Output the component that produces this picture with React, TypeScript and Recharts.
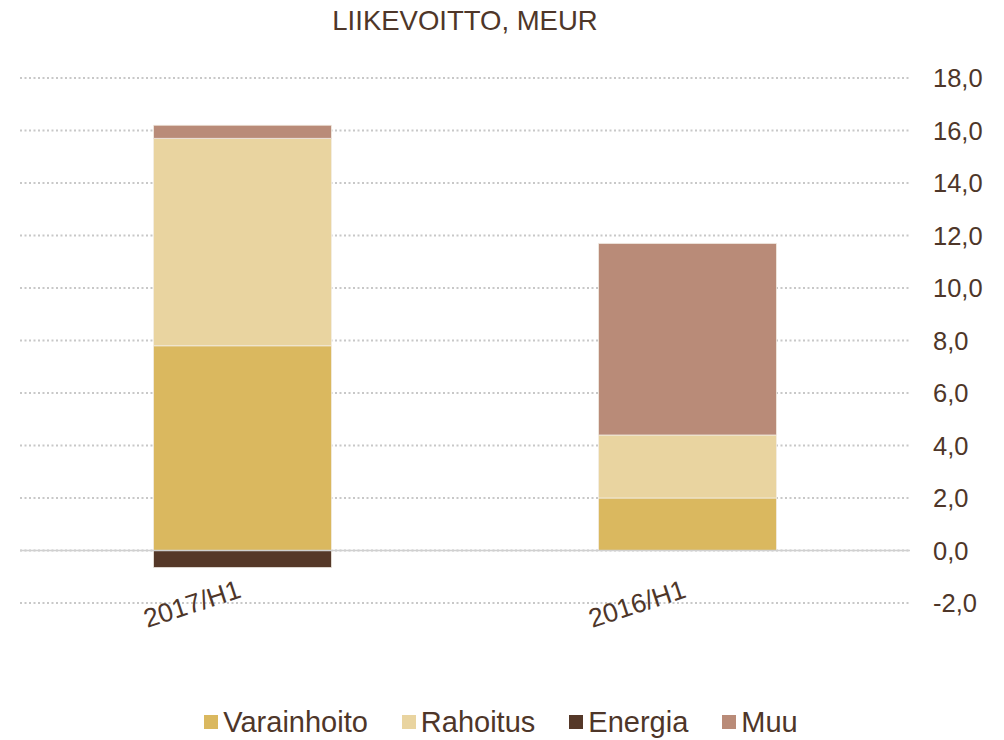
import {
    Bar,
    BarChart,
    CartesianGrid,
    Legend,
    ReferenceLine,
    XAxis,
    YAxis,
} from "recharts";

const categories = ["2017/H1", "2016/H1"];
const varainhoito = [7.8, 2.0];
const rahoitus = [7.9, 2.4];
const energia = [-0.65, 0];
const muu = [0.5, 7.3];
const yTicks = [-2, 0, 2, 4, 6, 8, 10, 12, 14, 16, 18];

const series = [
    { key: "varainhoito", name: "Varainhoito", color: "#dab85f" },
    { key: "rahoitus", name: "Rahoitus", color: "#e9d4a0" },
    { key: "energia", name: "Energia", color: "#553828" },
    { key: "muu", name: "Muu", color: "#b98b78" },
];

const data = categories.map((category, i) => ({
    category,
    varainhoito: varainhoito[i],
    rahoitus: rahoitus[i],
    energia: energia[i],
    muu: muu[i],
}));

const textColor = "#4e3629";
const font = "'Liberation Sans', Arial, sans-serif";

function formatTick(value: number) {
    return value.toFixed(1).replace(".", ",");
}

function CategoryTick(props: any) {
    const { x, y, payload } = props;
    return (
        <g transform={`translate(${x},${y - 6})`}>
            <text
                textAnchor="end"
                transform="rotate(-18)"
                fontSize={26.5}
                fill={textColor}
                fontFamily={font}
            >
                {payload.value}
            </text>
        </g>
    );
}

function LegendContent() {
    return (
        <div
            style={{
                display: "flex",
                justifyContent: "center",
                alignItems: "center",
                gap: 34,
                fontFamily: font,
                fontSize: 29,
                color: textColor,
                height: 34,
                paddingRight: 14,
            }}
        >
            {series.map((s) => (
                <div
                    key={s.key}
                    style={{ display: "flex", alignItems: "center", gap: 5 }}
                >
                    <span
                        style={{
                            display: "inline-block",
                            width: 14,
                            height: 14,
                            background: s.color,
                        }}
                    />
                    <span>{s.name}</span>
                </div>
            ))}
        </div>
    );
}

export default function App() {
    return (
        <div
            style={{
                position: "absolute",
                left: 0,
                top: 0,
                width: 1004,
                height: 740,
                background: "#ffffff",
                fontFamily: font,
            }}
        >
            <div
                style={{
                    position: "absolute",
                    left: 20,
                    width: 890,
                    top: 5,
                    textAlign: "center",
                    fontSize: 27.5,
                    color: textColor,
                }}
            >
                LIIKEVOITTO, MEUR
            </div>
            <BarChart
                width={1004}
                height={740}
                data={data}
                stackOffset="sign"
                barCategoryGap="30%"
                margin={{ top: 78, right: 8, left: 20, bottom: 1 }}
            >
                <CartesianGrid
                    vertical={false}
                    stroke="#c8c8c8"
                    strokeWidth={2}
                    strokeDasharray="2 2.5"
                />
                <XAxis
                    dataKey="category"
                    axisLine={false}
                    tickLine={false}
                    tickSize={0}
                    tickMargin={0}
                    height={102}
                    interval={0}
                    tick={<CategoryTick />}
                />
                <YAxis
                    orientation="right"
                    domain={[-2, 18]}
                    ticks={yTicks}
                    axisLine={false}
                    tickLine={false}
                    tickSize={0}
                    tickMargin={23}
                    width={86}
                    tickFormatter={formatTick}
                    tick={{ fontSize: 25.5, fill: textColor, fontFamily: font }}
                />
                <ReferenceLine y={0} stroke="#d0d0d0" strokeWidth={1.5} />
                {series.map((s) => (
                    <Bar
                        key={s.key}
                        dataKey={s.key}
                        name={s.name}
                        stackId="a"
                        fill={s.color}
                        stroke="#f3ede6"
                        strokeWidth={0.75}
                        isAnimationActive={false}
                    />
                ))}
                <Legend verticalAlign="bottom" content={<LegendContent />} />
            </BarChart>
        </div>
    );
}
